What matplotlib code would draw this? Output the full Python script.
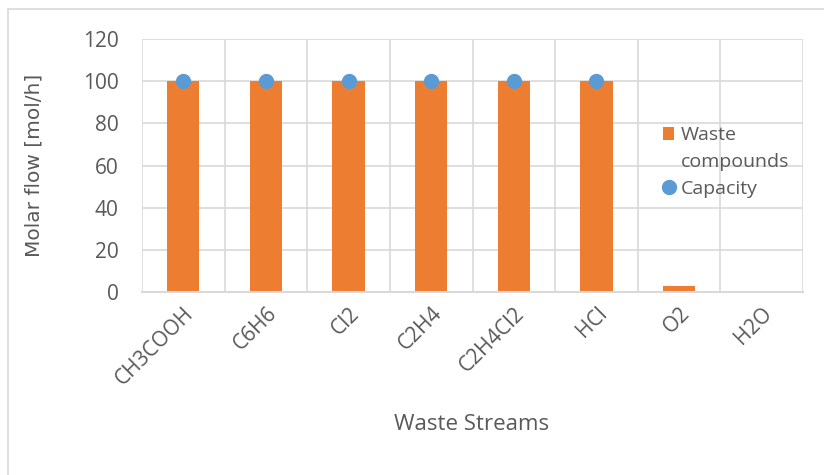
import numpy as np
import matplotlib.pyplot as plt
from matplotlib.patches import Rectangle
from matplotlib.lines import Line2D

# data
streams = ["CH3COOH", "C6H6", "Cl2", "C2H4", "C2H4Cl2", "HCl", "O2", "H2O"]
waste = [100, 100, 100, 100, 100, 100, 3, 0]
capacity = [100, 100, 100, 100, 100, 100]

text_col = "#595959"
grid_col = "#d9d9d9"

plt.rcParams['font.family'] = ['Open Sans', 'DejaVu Sans']

fig = plt.figure(figsize=(8.24, 4.75), dpi=100)
# outer chart-area border
fig.patches.append(Rectangle((8 / 824, -0.1), 1.2, 1 - 9 / 475 + 0.1, transform=fig.transFigure,
                             fill=False, edgecolor=grid_col, linewidth=1.2))

ax = fig.add_axes([142 / 824, 1 - 292 / 475, (803 - 142) / 824, (292 - 39) / 475])

x = np.arange(len(streams))
bars = ax.bar(x, waste, width=0.39, color="#ED7D31", label="Waste compounds", zorder=2)
pts, = ax.plot(x[:len(capacity)], capacity, 'o', ms=10, color="#5B9BD5", label="Capacity", zorder=3)

ax.set_xlim(-0.5, len(streams) - 0.5)
ax.set_ylim(0, 120)
ax.set_yticks(np.arange(0, 121, 20))
ax.set_xticks(x)
ax.set_xticklabels(streams, rotation=45, ha="right", rotation_mode="anchor")

# vertical gridlines sit between categories
ax.set_xticks(np.arange(-0.5, len(streams)), minor=True)
ax.grid(True, which="minor", axis="x", color=grid_col, lw=1.2, zorder=0)
ax.grid(True, which="major", axis="y", color=grid_col, lw=1.2, zorder=0)
ax.tick_params(axis="x", which="both", length=0, pad=8)
ax.tick_params(axis="y", length=0, pad=17)
ax.tick_params(colors=text_col, labelsize=15)

for s in ["top", "right", "left"]:
    ax.spines[s].set_visible(False)
ax.spines["bottom"].set_color(grid_col)
ax.spines["bottom"].set_linewidth(1.5)

ax.set_ylabel("Molar flow [mol/h]", fontsize=14.5, color=text_col, family="DejaVu Sans")
ax.yaxis.set_label_coords(-(142 - 44) / 661, 0.5)
fig.text(472 / 824, 1 - 424 / 475, "Waste Streams", fontsize=16, color=text_col, ha="center", va="center")

# legend: marker sits on the first line of the wrapped label
blank = Line2D([], [], linestyle="none")
leg = ax.legend([bars, blank, pts], ["Waste", "compounds", "Capacity"], loc="upper left",
                bbox_to_anchor=(0.776, 0.685), frameon=False, fontsize=14,
                handlelength=0.6, handletextpad=0.35, labelspacing=0.45, borderaxespad=0)
for t in leg.get_texts():
    t.set_color(text_col)

fig.savefig("out.png", dpi=100)
